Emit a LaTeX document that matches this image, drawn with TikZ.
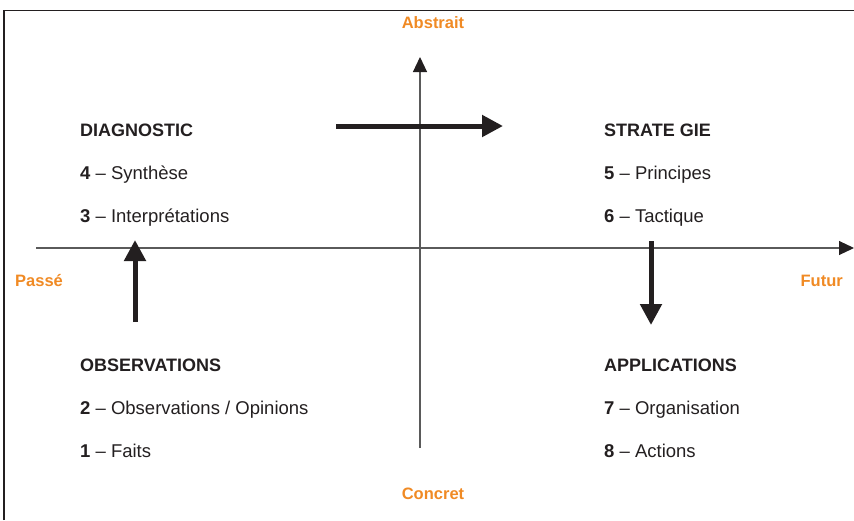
\documentclass[tikz,border=0pt]{standalone}
\usepackage{fontspec}
\setmainfont{Liberation Sans}
\usetikzlibrary{arrows.meta}
\definecolor{ink}{HTML}{231F20}
\definecolor{orng}{HTML}{F08A24}
\definecolor{axisgray}{HTML}{5A5A5A}
\tikzset{
  axisline/.style={draw=axisgray,line width=1.1pt,-{Triangle[length=15pt,width=14pt,fill=ink,color=ink]}},
  bigarrow/.style={draw=ink,line width=5pt,-{Triangle[length=21pt,width=21pt]}},
  head/.style={anchor=base west,inner sep=0pt,font=\fontsize{18}{20}\selectfont\bfseries,text=ink},
  item/.style={anchor=base west,inner sep=0pt,font=\fontsize{18.5}{20}\selectfont,text=ink},
  axlabel/.style={inner sep=0pt,font=\fontsize{16.5}{18}\selectfont\bfseries,text=orng},
  frameline/.style={draw=ink,line width=1.6pt}
}
\begin{document}
\begin{tikzpicture}[x=1pt,y=-1pt]
\useasboundingbox (0,0) rectangle (854,520);
% frame
\draw[frameline] (4,520) -- (4,10.5) -- (854,10.5);
% axes
\coordinate (hl) at (36,248);
\coordinate (hr) at (854,248);
\coordinate (vb) at (420,448);
\coordinate (vt) at (420,57);
\draw[axisline] (hl) -- (hr);
\draw[axisline] (vb) -- (vt);
% axis labels
\node[axlabel,anchor=base] (abs) at (433,28) {Abstrait};
\node[axlabel,anchor=base] (con) at (433,499) {Concret};
\node[axlabel,anchor=base west] (pas) at (15,286) {Passé};
\node[axlabel,anchor=base east] (fut) at (843,286) {Futur};
% quadrant texts
\node[head] (diag) at (80,136.5) {DIAGNOSTIC};
\node[item] (d4) at (80,179.5) {\textbf{4} – Synthèse};
\node[item] (d3) at (80,222.5) {\textbf{3} – Interprétations};
\node[head] (strat) at (604,136.5) {STRATE GIE};
\node[item] (s5) at (604,179.5) {\textbf{5} – Principes};
\node[item] (s6) at (604,222.5) {\textbf{6} – Tactique};
\node[head] (obs) at (80,371.5) {OBSERVATIONS};
\node[item] (o2) at (80,414.5) {\textbf{2} – Observations / Opinions};
\node[item] (o1) at (80,457.5) {\textbf{1} – Faits};
\node[head] (app) at (604,371.5) {APPLICATIONS};
\node[item] (a7) at (604,414.5) {\textbf{7} – Organisation};
\node[item] (a8) at (604,457.5) {\textbf{8} – Actions};
% process arrows
\coordinate (ta) at (336,126);
\coordinate (tb) at (503,126);
\coordinate (la) at (135,322);
\coordinate (lb) at (135,240);
\coordinate (ra) at (651,241);
\coordinate (rb) at (651,325);
\draw[bigarrow] (ta) -- (tb);
\draw[bigarrow] (la) -- (lb);
\draw[bigarrow] (ra) -- (rb);
\end{tikzpicture}
\end{document}
